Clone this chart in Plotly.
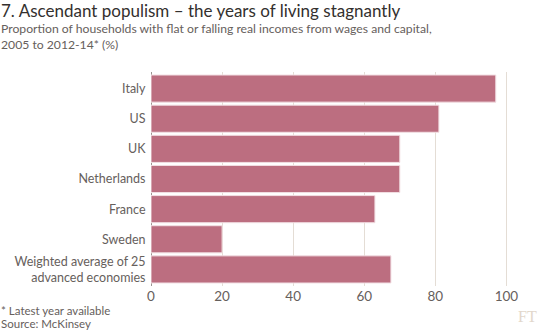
import plotly.graph_objects as go

categories = ["Italy", "US", "UK", "Netherlands", "France", "Sweden",
              "Weighted average of 25<br>advanced economies"]
values = [97, 81, 70, 70, 63, 20, 67.5]
x_ticks = [0, 20, 40, 60, 80, 100]

BAR = "#bc6e80"
GRID = "#e4ddd5"
TXT = "#66605c"
FONT = "Lato"

PL, PR, PT, PB = 151, 15, 72, 44
W, H = 541, 330

fig = go.Figure(go.Bar(
    x=values, y=categories, orientation="h",
    marker=dict(color=BAR, line=dict(color="#f2dfe3", width=1)),
    width=0.9,
))

fig.update_layout(
    width=W, height=H,
    margin=dict(l=PL, r=PR, t=PT, b=PB),
    paper_bgcolor="white", plot_bgcolor="white",
    showlegend=False,
    font=dict(family=FONT, color=TXT, size=12),
    xaxis=dict(range=[0, 105.5], tickvals=x_ticks, showgrid=True,
               gridcolor=GRID, gridwidth=1, zeroline=True,
               zerolinecolor="#9a9490", zerolinewidth=1,
               tickfont=dict(size=13.5, color=TXT, family=FONT),
               ticks="", fixedrange=True, automargin=False),
    yaxis=dict(categoryorder="array", categoryarray=categories[::-1],
               showgrid=False, zeroline=False,
               tickfont=dict(size=12.5, color=TXT, family=FONT),
               ticks="outside", ticklen=2, tickcolor="rgba(0,0,0,0)",
               automargin=False, range=[-0.55, 6.55]),
)


def add_text(text, px, py, size, color, family=FONT, xanchor="left"):
    w = W - PL - PR
    h = H - PT - PB
    fig.add_annotation(text=text, xref="paper", yref="paper",
                       x=(px - PL) / w, y=1 - (py - PT) / h,
                       xanchor=xanchor, yanchor="top", showarrow=False,
                       align="left",
                       font=dict(size=size, color=color, family=family))


add_text("7. Ascendant populism \u2013 the years of living stagnantly", -1, -2, 17, "#33302e")
add_text("Proportion of households with flat or falling real incomes from wages and capital,", -1, 19, 12.2, TXT)
add_text("2005 to 2012-14* (%)", -1, 35, 12.2, TXT)
add_text("* Latest year available", -1, 302, 11.5, TXT)
add_text("Source: McKinsey", -1, 315, 11.5, TXT)
add_text("FT", 539, 306, 16, "#e2d7cb", family="Liberation Serif", xanchor="right")

fig.write_html("out.html")
